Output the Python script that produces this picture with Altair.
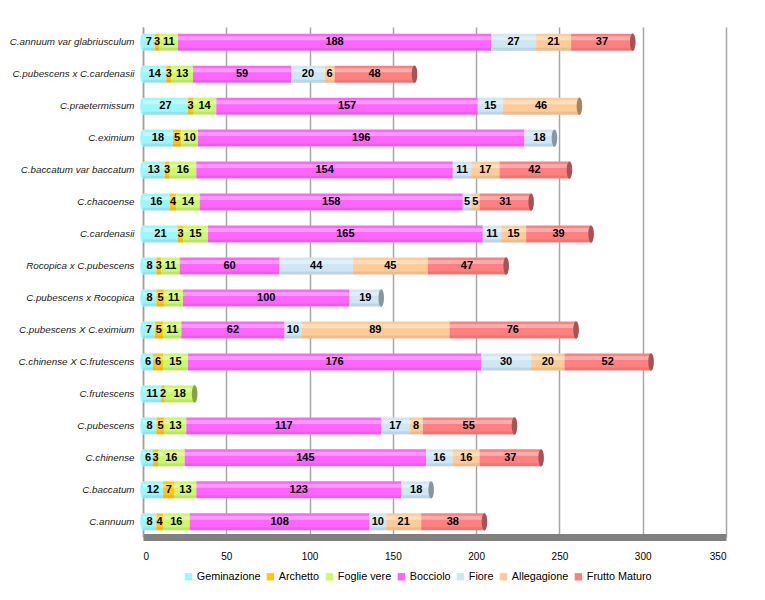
import altair as alt
import pandas as pd

species = [
    "C.annuum var glabriusculum",
    "C.pubescens x C.cardenasii",
    "C.praetermissum",
    "C.eximium",
    "C.baccatum var baccatum",
    "C.chacoense",
    "C.cardenasii",
    "Rocopica x C.pubescens",
    "C.pubescens x Rocopica",
    "C.pubescens X C.eximium",
    "C.chinense X C.frutescens",
    "C.frutescens",
    "C.pubescens",
    "C.chinense",
    "C.baccatum",
    "C.annuum",
]
series = ["Geminazione", "Archetto", "Foglie vere", "Bocciolo", "Fiore", "Allegagione", "Frutto Maturo"]

geminazione = [7, 14, 27, 18, 13, 16, 21, 8, 8, 7, 6, 11, 8, 6, 12, 8]
archetto = [3, 3, 3, 5, 3, 4, 3, 3, 5, 5, 6, 2, 5, 3, 7, 4]
foglie_vere = [11, 13, 14, 10, 16, 14, 15, 11, 11, 11, 15, 18, 13, 16, 13, 16]
bocciolo = [188, 59, 157, 196, 154, 158, 165, 60, 100, 62, 176, 0, 117, 145, 123, 108]
fiore = [27, 20, 15, 18, 11, 5, 11, 44, 19, 10, 30, 0, 17, 16, 18, 10]
allegagione = [21, 6, 46, 0, 17, 5, 15, 45, 0, 89, 20, 0, 8, 16, 0, 21]
frutto_maturo = [37, 48, 0, 0, 42, 31, 39, 47, 0, 76, 52, 0, 55, 37, 0, 38]

colors = ["#9DF7FA", "#FFC90E", "#CCFA6A", "#FF66FF", "#CFE6F5", "#FFCC99", "#FF8080"]

all_vals = [geminazione, archetto, foglie_vere, bocciolo, fiore, allegagione, frutto_maturo]
rows = []
for i, sp in enumerate(species):
    for j, s in enumerate(series):
        v = all_vals[j][i]
        if v > 0:
            rows.append({"species": sp, "series": s, "idx": j, "value": v})
df = pd.DataFrame(rows)

FONT = "Liberation Sans"
ELLIPSE = "M0,-1 A0.32,1 0 1,1 0,1 A0.32,1 0 1,1 0,-1 Z"

base = alt.Chart(df).transform_stack(
    stack="value", groupby=["species"], as_=["x0", "x1"],
    sort=[alt.SortField("idx", order="ascending")]
).transform_calculate(mid="(datum.x0 + datum.x1) / 2")

yenc = alt.Y("species:N", sort=species, title=None,
             scale=alt.Scale(paddingInner=0.45, paddingOuter=0.2),
             axis=alt.Axis(labelFont=FONT, labelFontStyle="italic", labelFontSize=9.8,
                           labelColor="#1a1a1a", ticks=False, labelPadding=9,
                           domainColor="#A0A0A0", domainWidth=1.5, labelLimit=200))
ysimple = alt.Y("species:N", sort=species)

xscale = alt.Scale(domain=[0, 350], nice=False)
cscale = alt.Scale(domain=series, range=colors)
legend = alt.Legend(title=None, orient="none", direction="horizontal",
                    legendX=40, legendY=544,
                    symbolType="square", symbolSize=55, symbolStrokeWidth=0,
                    labelFont=FONT, labelFontSize=10.8, labelColor="#000",
                    columnPadding=4, labelOffset=3)
cenc = alt.Color("series:N", scale=cscale, legend=legend)

bars = base.mark_bar(size=17).encode(
    x=alt.X("x0:Q", scale=xscale, title=None,
            axis=alt.Axis(values=[0, 50, 100, 150, 200, 250, 300, 350], labelFont=FONT,
                          labelFontSize=10, labelColor="#000", ticks=False, labelPadding=14,
                          gridColor="#A6A6A6", gridWidth=1.5, domainColor="#808080",
                          domainWidth=7)),
    x2="x1:Q",
    y=yenc,
    color=cenc,
)

highlight = base.mark_bar(size=4, yOffset=-4, color="white", opacity=0.35).encode(
    x="x0:Q", x2="x1:Q", y=ysimple
)
shade = base.mark_bar(size=3, yOffset=7, color="black", opacity=0.08).encode(
    x="x0:Q", x2="x1:Q", y=ysimple
)

ends = base.transform_joinaggregate(maxidx="max(idx)", groupby=["species"]).transform_filter(
    "datum.idx == datum.maxidx"
)
cap = ends.mark_point(shape=ELLIPSE, size=300, filled=True, opacity=1, strokeWidth=0).encode(
    x="x1:Q", y=ysimple, color=cenc
)
cap_dark = ends.mark_point(shape=ELLIPSE, size=300, filled=True, color="#000", opacity=0.35,
                           strokeWidth=0).encode(x="x1:Q", y=ysimple)

starts = base.transform_filter("datum.idx == 0")
left_cap = starts.mark_point(shape=ELLIPSE, size=300, filled=True, opacity=1, strokeWidth=0).encode(
    x="x0:Q", y=ysimple, color=cenc
)

labels = base.mark_text(font=FONT, fontSize=11, fontWeight="bold", color="#000").encode(
    x="mid:Q", y=ysimple, text="value:Q"
)

chart = alt.layer(left_cap, bars, highlight, shade, cap, cap_dark, labels).properties(
    width=583, height=510,
    autosize=alt.AutoSizeParams(type="none"),
    padding={"left": 135, "top": 19, "right": 20, "bottom": 60},
).configure_view(stroke=None)

chart.save("out.html", embed_options={"renderer": "svg", "actions": False})
